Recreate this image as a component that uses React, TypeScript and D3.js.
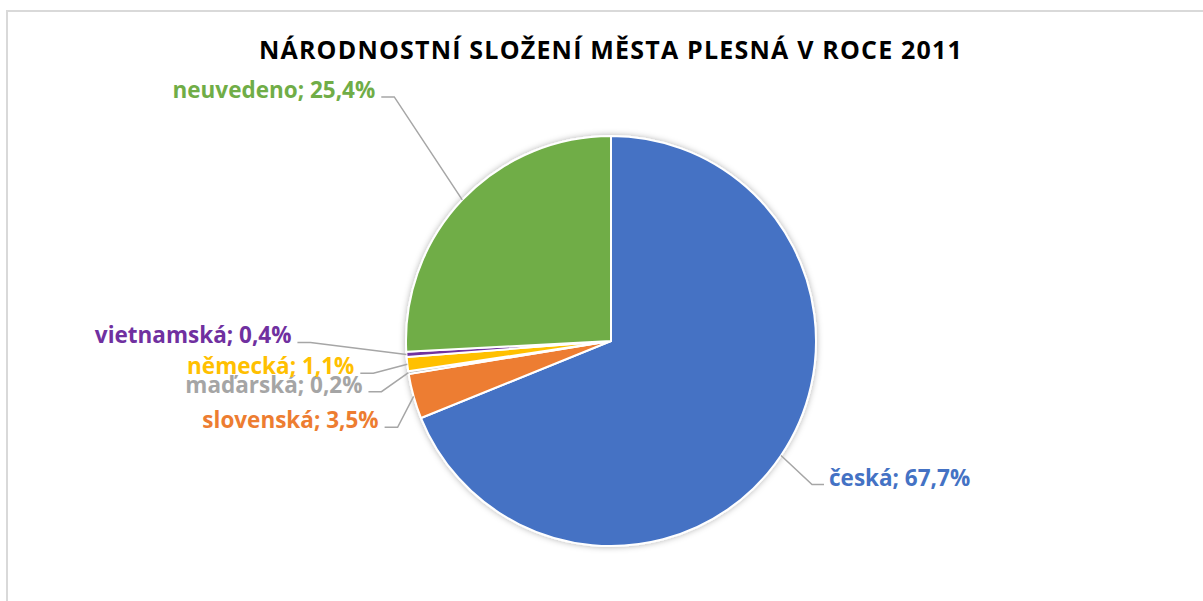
// @ts-nocheck
import * as d3 from "d3";

// data
const categories = ["česká", "slovenská", "maďarská", "německá", "vietnamská", "neuvedeno"];
const values = [67.7, 3.5, 0.2, 1.1, 0.4, 25.4];
const colors = ["#4472C4", "#ED7D31", "#A5A5A5", "#FFC000", "#7030A0", "#70AD47"];
const title = "NÁRODNOSTNÍ SLOŽENÍ MĚSTA PLESNÁ V ROCE 2011";

// label elbow offsets from the slice edge point (layout, not data)
const labelOffsets = [
  [31, 29],
  [-16, 31],
  [-27, 19],
  [-34, 9],
  [-96, -12],
  [-68, -103],
];

const width = 1203;
const height = 601;
const cx = 611;
const cy = 341;
const radius = 205;
const font = "'Open Sans', 'Noto Sans', sans-serif";

const fmt = (v) => v.toFixed(1).replace(".", ",") + "%";

export default function App() {
  const data = categories.map((c, i) => ({ name: c, value: values[i], color: colors[i], i }));
  const arcs = d3.pie().sort(null).value((d) => d.value)(data);
  const arc = d3.arc().innerRadius(0).outerRadius(radius);

  return (
    <svg
      width={width}
      height={height}
      style={{ position: "absolute", left: 0, top: 0, display: "block", background: "#fff" }}
    >
      <defs>
        <filter id="sh" x="-20%" y="-20%" width="140%" height="140%">
          <feDropShadow dx="0" dy="0" stdDeviation="3" floodColor="#000" floodOpacity="0.3" />
        </filter>
      </defs>
      <rect x={7} y={11} width={width + 20} height={height + 20} fill="#fff" stroke="#D9D9D9" strokeWidth={2} />
      <text
        x={cx}
        y={59}
        textAnchor="middle"
        fontFamily={font}
        fontWeight="bold"
        fontSize={25}
        letterSpacing={1.2}
        fill="#000"
      >
        {title}
      </text>
      <g transform={`translate(${cx},${cy})`} filter="url(#sh)">
        {arcs.map((a) => (
          <path key={a.data.name} d={arc(a)} fill={a.data.color} stroke="#fff" strokeWidth={2} strokeLinejoin="round" />
        ))}
      </g>
      {arcs.map((a) => {
        const mid = (a.startAngle + a.endAngle) / 2;
        const ex = cx + radius * Math.sin(mid);
        const ey = cy - radius * Math.cos(mid);
        const [dx, dy] = labelOffsets[a.data.i];
        const bx = ex + dx;
        const by = ey + dy;
        const right = dx > 0;
        const hx = bx + (right ? 12 : -13);
        const tx = hx + (right ? 5 : -6);
        return (
          <g key={"l" + a.data.name}>
            <polyline
              points={`${ex},${ey} ${bx},${by} ${hx},${by}`}
              fill="none"
              stroke="#A6A6A6"
              strokeWidth={1.5}
            />
            <text
              x={tx}
              y={by + 1}
              textAnchor={right ? "start" : "end"}
              fontFamily={font}
              fontWeight="bold"
              fontSize={22.5}
              fill={a.data.color}
            >
              {`${a.data.name}; ${fmt(a.data.value)}`}
            </text>
          </g>
        );
      })}
    </svg>
  );
}
